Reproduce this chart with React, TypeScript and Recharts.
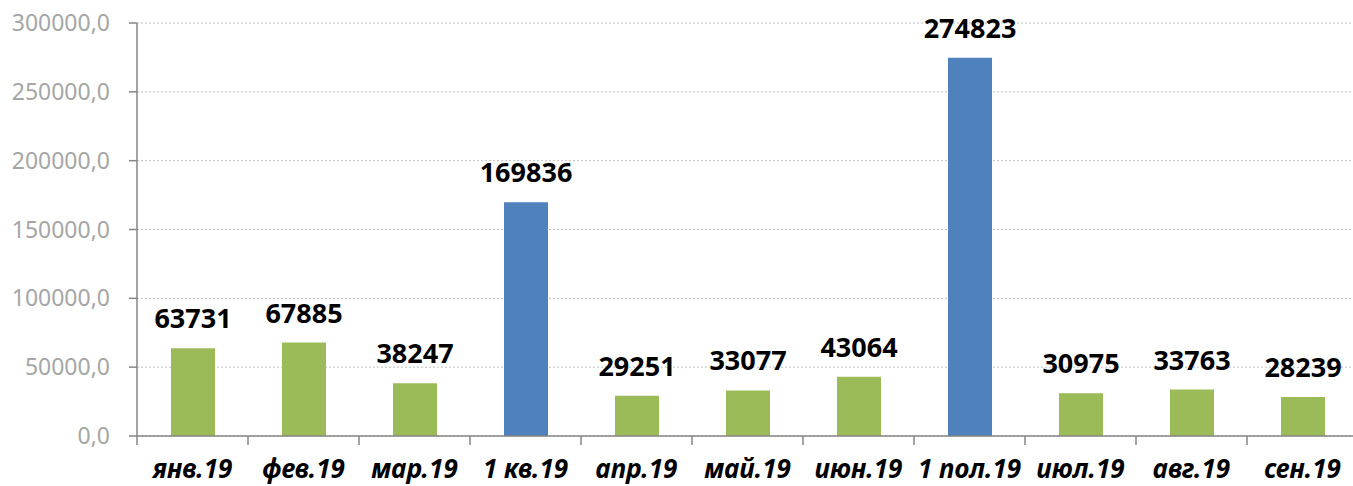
import React from 'react';
import { BarChart, Bar, XAxis, YAxis, CartesianGrid, Cell, LabelList } from 'recharts';

const categories = ['янв.19', 'фев.19', 'мар.19', '1 кв.19', 'апр.19', 'май.19', 'июн.19', '1 пол.19', 'июл.19', 'авг.19', 'сен.19'];
const values = [63731, 67885, 38247, 169836, 29251, 33077, 43064, 274823, 30975, 33763, 28239];
const summaryCategories = ['1 кв.19', '1 пол.19'];
const yTicks = [0, 50000, 100000, 150000, 200000, 250000, 300000];

const chartData = categories.map((name, i) => ({ name, value: values[i] }));

const WIDTH = 1360;
const AXIS_W = 137;
const MARGIN_RIGHT = 2;
const bandWidth = (WIDTH - AXIS_W - MARGIN_RIGHT) / categories.length;

const FONT = '"Noto Sans", "Open Sans", sans-serif';
const AXIS_COLOR = '#868686';

// category ticks sit on the band boundaries, labels in the middle
const XTick = (props: any) => {
  const { x, y, payload } = props;
  const left = x - bandWidth / 2;
  return (
    <g>
      <line x1={left} x2={left} y1={y} y2={y + 9} stroke={AXIS_COLOR} strokeWidth={1.5} />
      <text
        x={x}
        y={y + 42}
        textAnchor="middle"
        fontFamily={FONT}
        fontSize={26}
        fontWeight="bold"
        fontStyle="italic"
        fill="#000"
      >
        {payload.value}
      </text>
    </g>
  );
};

export default function App() {
  return (
    <div style={{ position: 'absolute', left: 0, top: 0, width: 1353, height: 486, overflow: 'hidden', background: '#fff' }}>
      <BarChart
        width={WIDTH}
        height={486}
        data={chartData}
        margin={{ top: 23, right: MARGIN_RIGHT, bottom: 0, left: 0 }}
        barCategoryGap="30%"
      >
        <CartesianGrid vertical={false} stroke="#c0c0c0" strokeDasharray="2 2" />
        <XAxis
          dataKey="name"
          height={50}
          interval={0}
          tickLine={false}
          tickSize={0}
          tickMargin={0}
          axisLine={{ stroke: AXIS_COLOR, strokeWidth: 1.5 }}
          tick={<XTick />}
        />
        <YAxis
          width={AXIS_W}
          domain={[0, 300000]}
          ticks={yTicks}
          interval={0}
          tickSize={8}
          tickMargin={19}
          axisLine={{ stroke: AXIS_COLOR, strokeWidth: 1.5 }}
          tickLine={{ stroke: AXIS_COLOR, strokeWidth: 1.5 }}
          tick={{ fill: '#a6a6a6', fontSize: 23, fontFamily: FONT }}
          tickFormatter={(v: number) => v.toFixed(1).replace('.', ',')}
        />
        <Bar dataKey="value" barSize={44} isAnimationActive={false}>
          {chartData.map((d) => (
            <Cell key={d.name} fill={summaryCategories.includes(d.name) ? '#4F81BD' : '#9BBB59'} />
          ))}
          <LabelList
            dataKey="value"
            position="top"
            offset={20}
            fill="#000"
            fontSize={27}
            fontWeight="bold"
            fontFamily={FONT}
          />
        </Bar>
      </BarChart>
    </div>
  );
}
